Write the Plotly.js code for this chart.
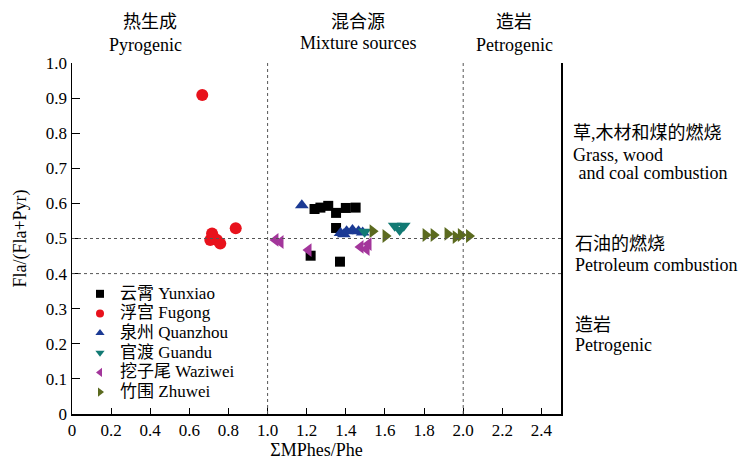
<!DOCTYPE html>
<html>
<head>
<meta charset="utf-8">
<script src="https://cdn.plot.ly/plotly-3.0.1.min.js"></script>
<style>html,body{margin:0;padding:0;background:#fff;}#chart{width:742px;height:460px;}</style>
</head>
<body>
<div id="chart"></div>
<script>
// ---- data ----
var seriesNames = ['云霄 Yunxiao', '浮宫 Fugong', '泉州 Quanzhou', '官渡 Guandu', '挖子尾 Waziwei', '竹围 Zhuwei'];
var yunxiaoX = [1.24, 1.27, 1.31, 1.35, 1.40, 1.45, 1.35, 1.22, 1.37];
var yunxiaoY = [0.584, 0.588, 0.593, 0.573, 0.587, 0.588, 0.530, 0.451, 0.434];
var fugongX = [0.666, 0.837, 0.716, 0.707, 0.741, 0.758, 0.722];
var fugongY = [0.909, 0.529, 0.514, 0.496, 0.496, 0.486, 0.505];
var quanzhouX = [1.175, 1.373, 1.39, 1.404, 1.434, 1.465, 1.486];
var quanzhouY = [0.595, 0.516, 0.512, 0.521, 0.524, 0.521, 0.517];
var guanduX = [1.496, 1.650, 1.696, 1.675];
var guanduY = [0.519, 0.536, 0.536, 0.524];
var waziweiX = [1.040, 1.066, 1.209, 1.475, 1.506, 1.516];
var waziweiY = [0.496, 0.490, 0.467, 0.476, 0.470, 0.484];
var zhuweiX = [1.537, 1.603, 1.808, 1.849, 1.920, 1.962, 1.988, 2.030];
var zhuweiY = [0.521, 0.507, 0.510, 0.510, 0.513, 0.504, 0.510, 0.507];
var xTickVals = [0, 0.2, 0.4, 0.6, 0.8, 1.0, 1.2, 1.4, 1.6, 1.8, 2.0, 2.2, 2.4];
var xTickText = ['0', '0.2', '0.4', '0.6', '0.8', '1.0', '1.2', '1.4', '1.6', '1.8', '2.0', '2.2', '2.4'];
var yTickVals = [0, 0.1, 0.2, 0.3, 0.4, 0.5, 0.6, 0.7, 0.8, 0.9, 1.0];
var yTickText = ['0', '0.1', '0.2', '0.3', '0.4', '0.5', '0.6', '0.7', '0.8', '0.9', '1.0'];

// ---- styles ----
var FONT = "'Liberation Serif', 'Noto Sans CJK SC', serif";
var colors = ['#000000', '#e8121c', '#1b3a94', '#127a74', '#a3369b', '#5b6a1f'];
var symbols = ['square', 'circle', 'triangle-up', 'triangle-down', 'triangle-left', 'triangle-right'];
var sizes = [10, 12, 12, 12, 12, 12];
var xs = [yunxiaoX, fugongX, quanzhouX, guanduX, waziweiX, zhuweiX];
var ys = [yunxiaoY, fugongY, quanzhouY, guanduY, waziweiY, zhuweiY];

var traces = [];
for (var i = 0; i < 6; i++) {
  traces.push({
    x: xs[i], y: ys[i], type: 'scatter', mode: 'markers', showlegend: false,
    marker: {symbol: symbols[i], color: colors[i], size: sizes[i], line: {width: 0}},
    hoverinfo: 'x+y'
  });
}
for (var j = 0; j < 6; j++) {
  traces.push({
    x: [null], y: [null], type: 'scatter', mode: 'markers',
    name: '<span style="font-size:17px">' + seriesNames[j] + '</span>',
    marker: {symbol: symbols[j], color: colors[j], size: 8, line: {width: 0}}
  });
}

var L = 72, R = 561, T = 63, B = 414;
function px(x) { return (x - L) / (R - L); }
function py(y) { return (B - y) / (B - T); }
function ann(text, x, y, anchor, size) {
  return {text: text, xref: 'paper', yref: 'paper', x: px(x), y: py(y),
    xanchor: anchor || 'center', yanchor: 'middle', showarrow: false,
    font: {family: FONT, size: size || 18, color: '#000'}};
}

var dotLine = {color: '#555', width: 1, dash: 'dot'};
var layout = {
  width: 742, height: 460,
  margin: {l: L, r: 742 - R, t: T, b: 460 - B, pad: 0},
  paper_bgcolor: '#fff', plot_bgcolor: '#fff',
  font: {family: FONT, size: 17, color: '#000'},
  xaxis: {
    range: [0, 2.5], tickvals: xTickVals, ticktext: xTickText,
    ticks: 'inside', ticklen: 6, tickwidth: 1, tickcolor: '#000',
    showline: true, linecolor: '#000', linewidth: 1.5, showgrid: false, zeroline: false,
    tickfont: {family: FONT, size: 17},
    title: {text: 'ΣMPhes/Phe', font: {family: FONT, size: 18}, standoff: 4}
  },
  yaxis: {
    range: [0, 1.0], tickvals: yTickVals, ticktext: yTickText,
    ticks: 'inside', ticklen: 8, tickwidth: 1, tickcolor: '#000',
    showline: true, mirror: true, linecolor: '#000', linewidth: 1.5, showgrid: false, zeroline: false,
    tickfont: {family: FONT, size: 17},
    title: {text: 'Fla/(Fla+Pyr)', font: {family: FONT, size: 18}, standoff: 14}
  },
  legend: {
    x: px(80), y: py(279), xanchor: 'left', yanchor: 'top',
    bgcolor: 'rgba(0,0,0,0)', borderwidth: 0,
    font: {family: FONT, size: 12.8}, tracegroupgap: 0, itemwidth: 30
  },
  shapes: [
    {type: 'line', xref: 'x', yref: 'y', x0: 1, x1: 1, y0: 0, y1: 1, line: dotLine},
    {type: 'line', xref: 'x', yref: 'y', x0: 2, x1: 2, y0: 0, y1: 1, line: dotLine},
    {type: 'line', xref: 'x', yref: 'y', x0: 0, x1: 2.5, y0: 0.5, y1: 0.5, line: dotLine},
    {type: 'line', xref: 'x', yref: 'y', x0: 0, x1: 2.5, y0: 0.4, y1: 0.4, line: dotLine}
  ],
  annotations: [
    ann('热生成', 150, 22, 'center', 18),
    ann('Pyrogenic', 145, 45),
    ann('混合源', 358, 22, 'center', 18),
    ann('Mixture sources', 358, 43),
    ann('造岩', 514, 22, 'center', 18),
    ann('Petrogenic', 514, 45),
    ann('草,木材和煤的燃烧', 571, 133, 'left', 18),
    ann('Grass, wood', 571, 155, 'left'),
    ann(' and coal combustion', 572, 173, 'left'),
    ann('石油的燃烧', 573, 244, 'left', 18),
    ann('Petroleum combustion', 573, 265, 'left'),
    ann('造岩', 573, 325, 'left', 18),
    ann('Petrogenic', 573, 345, 'left')
  ]
};

Plotly.newPlot('chart', traces, layout, {displayModeBar: false, staticPlot: true});
</script>
</body>
</html>
